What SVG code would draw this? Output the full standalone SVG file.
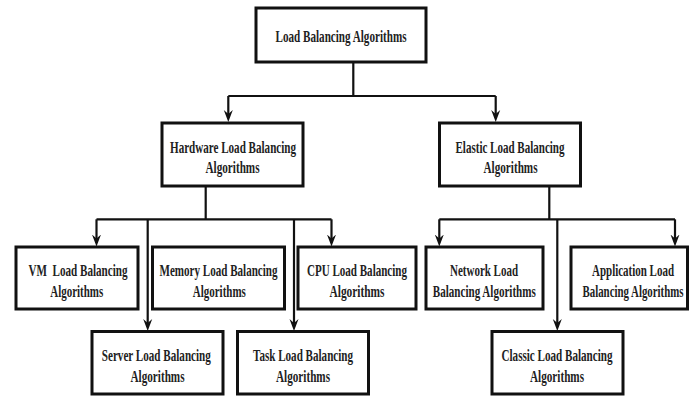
<svg xmlns="http://www.w3.org/2000/svg" width="689" height="396" viewBox="0 0 689 396">
<style>
.box{fill:#fff;stroke:#111;stroke-width:3}
.t{font-family:"Liberation Serif","Times New Roman",serif;font-weight:bold;font-size:17.5px;fill:#222;text-anchor:middle}
.ln{fill:none;stroke:#111;stroke-width:2.2}
</style>
<defs>
<marker id="ah" viewBox="0 0 12 10" refX="8" refY="5" markerWidth="12" markerHeight="10" markerUnits="userSpaceOnUse" orient="auto">
<path d="M0,0.5 L12,5 L0,9.5 L4,5 Z" fill="#111"/>
</marker>
</defs>
<rect width="689" height="396" fill="#fff"/>
<g id="connectors">
<path class="ln" d="M353.3,62 V96 M228.3,96 H495.7"/>
<path class="ln" d="M228.3,96 V118" marker-end="url(#ah)"/>
<path class="ln" d="M495.7,96 V118" marker-end="url(#ah)"/>
<path class="ln" d="M205.7,186 V219.3 M96.5,219.3 H331.5"/>
<path class="ln" d="M96.5,219.3 V242.5" marker-end="url(#ah)"/>
<path class="ln" d="M331.5,219.3 V242.5" marker-end="url(#ah)"/>
<path class="ln" d="M147.7,219.3 V327" marker-end="url(#ah)"/>
<path class="ln" d="M294,219.3 V327" marker-end="url(#ah)"/>
<path class="ln" d="M549.3,186 V219.3 M439.3,219.3 H675"/>
<path class="ln" d="M439.3,219.3 V242.5" marker-end="url(#ah)"/>
<path class="ln" d="M675,219.3 V242.5" marker-end="url(#ah)"/>
<path class="ln" d="M557.3,219.3 V327" marker-end="url(#ah)"/>
</g>
<g id="root">
<rect class="box" x="256" y="8" width="170" height="54"/>
<text class="t" transform="translate(341,42) scale(0.63,1)" textLength="207.9" lengthAdjust="spacingAndGlyphs">Load Balancing Algorithms</text>
</g>
<g id="hardware">
<rect class="box" x="162" y="123" width="141" height="63"/>
<text class="t" transform="translate(233,152.5) scale(0.63,1)" textLength="200" lengthAdjust="spacingAndGlyphs">Hardware Load Balancing</text>
<text class="t" transform="translate(232.5,173) scale(0.63,1)" textLength="85.7" lengthAdjust="spacingAndGlyphs">Algorithms</text>
</g>
<g id="elastic">
<rect class="box" x="439.5" y="123" width="141" height="63"/>
<text class="t" transform="translate(510,152.5) scale(0.63,1)" textLength="173" lengthAdjust="spacingAndGlyphs">Elastic Load Balancing</text>
<text class="t" transform="translate(510.5,173) scale(0.63,1)" textLength="85.7" lengthAdjust="spacingAndGlyphs">Algorithms</text>
</g>
<g id="vm">
<rect class="box" x="16" y="247" width="122" height="62"/>
<text class="t" transform="translate(78,275.5) scale(0.63,1)" textLength="157.1" lengthAdjust="spacingAndGlyphs" xml:space="preserve">VM  Load Balancing</text>
<text class="t" transform="translate(76.7,296.5) scale(0.63,1)" textLength="84.1" lengthAdjust="spacingAndGlyphs">Algorithms</text>
</g>
<g id="memory">
<rect class="box" x="152.5" y="247" width="132" height="62"/>
<text class="t" transform="translate(218.5,275.5) scale(0.63,1)" textLength="187.3" lengthAdjust="spacingAndGlyphs">Memory Load Balancing</text>
<text class="t" transform="translate(219.3,296.5) scale(0.63,1)" textLength="84.1" lengthAdjust="spacingAndGlyphs">Algorithms</text>
</g>
<g id="cpu">
<rect class="box" x="298" y="247" width="118" height="62"/>
<text class="t" transform="translate(357,275.5) scale(0.63,1)" textLength="158.7" lengthAdjust="spacingAndGlyphs">CPU Load Balancing</text>
<text class="t" transform="translate(357,296.5) scale(0.63,1)" textLength="87.3" lengthAdjust="spacingAndGlyphs">Algorithms</text>
</g>
<g id="network">
<rect class="box" x="426" y="247" width="117" height="62"/>
<text class="t" transform="translate(484,275.5) scale(0.63,1)" textLength="107.9" lengthAdjust="spacingAndGlyphs">Network Load</text>
<text class="t" transform="translate(484.3,296.5) scale(0.63,1)" textLength="163.5" lengthAdjust="spacingAndGlyphs">Balancing Algorithms</text>
</g>
<g id="application">
<rect class="box" x="571" y="247" width="116.5" height="62"/>
<text class="t" transform="translate(633,275.5) scale(0.63,1)" textLength="130.2" lengthAdjust="spacingAndGlyphs">Application Load</text>
<text class="t" transform="translate(633,296.5) scale(0.63,1)" textLength="160.3" lengthAdjust="spacingAndGlyphs">Balancing Algorithms</text>
</g>
<g id="server">
<rect class="box" x="92" y="331.5" width="131" height="62.5"/>
<text class="t" transform="translate(156.3,360.5) scale(0.63,1)" textLength="173" lengthAdjust="spacingAndGlyphs">Server Load Balancing</text>
<text class="t" transform="translate(157.5,381.5) scale(0.63,1)" textLength="85.7" lengthAdjust="spacingAndGlyphs">Algorithms</text>
</g>
<g id="task">
<rect class="box" x="237.5" y="331.5" width="131" height="62.5"/>
<text class="t" transform="translate(303,360.5) scale(0.63,1)" textLength="158.7" lengthAdjust="spacingAndGlyphs">Task Load Balancing</text>
<text class="t" transform="translate(303,381.5) scale(0.63,1)" textLength="85.7" lengthAdjust="spacingAndGlyphs">Algorithms</text>
</g>
<g id="classic">
<rect class="box" x="492" y="331.5" width="131" height="62.5"/>
<text class="t" transform="translate(557,360.5) scale(0.63,1)" textLength="176.2" lengthAdjust="spacingAndGlyphs">Classic Load Balancing</text>
<text class="t" transform="translate(557,381.5) scale(0.63,1)" textLength="85.7" lengthAdjust="spacingAndGlyphs">Algorithms</text>
</g>
</svg>
